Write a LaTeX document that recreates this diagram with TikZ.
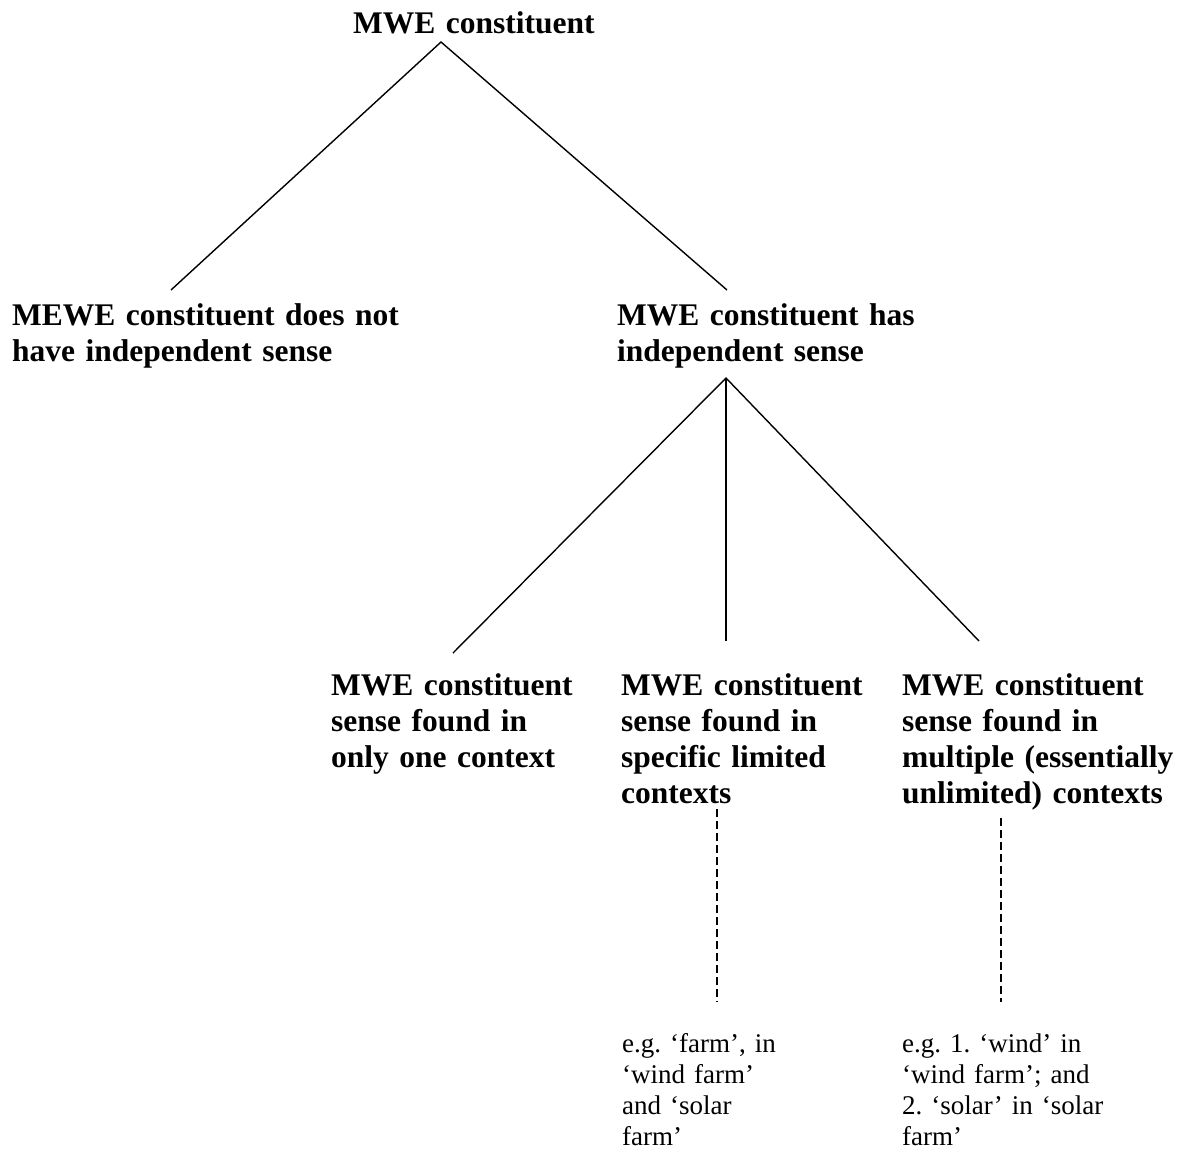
\documentclass[tikz,border=0pt]{standalone}
\usepackage{fontspec}
\setmainfont{Liberation Serif}
\begin{document}
\frenchspacing
\begin{tikzpicture}[x=1pt,y=-1pt,
  head/.style={anchor=base west,inner sep=0pt,text width=420pt,align=left,
    font=\fontsize{31.5}{36.2}\selectfont\bfseries},
  example/.style={anchor=base west,inner sep=0pt,text width=300pt,align=left,
    font=\fontsize{27}{31}\selectfont},
  branch/.style={draw=black,line width=1.4pt},
  link/.style={draw=black,line width=1.3pt,dash pattern=on 8pt off 4pt}]
\useasboundingbox (0,0) rectangle (1181,1173);
\fill[white] (0,0) rectangle (1181,1173);

% categories
\node[head] (root) at (353,33) {MWE constituent};
\node[head] (nosense) at (12,325) {MEWE constituent does not\\have independent sense};
\node[head] (sense) at (617,325) {MWE constituent has\\independent sense};
\node[head] (one) at (331,695) {MWE constituent\\sense found in\\only one context};
\node[head] (limited) at (621,695) {MWE constituent\\sense found in\\specific limited\\contexts};
\node[head] (multi) at (902,695) {MWE constituent\\sense found in\\multiple (essentially\\unlimited) contexts};

% examples
\node[example] (exlim) at (622,1052) {e.g. ‘farm’, in\\‘wind farm’\\and ‘solar\\farm’};
\node[example] (exmulti) at (902,1052) {e.g. 1. ‘wind’ in\\‘wind farm’; and\\2. ‘solar’ in ‘solar\\farm’};

% branch points
\coordinate (rootapex) at (441,42);
\coordinate (nosensetop) at (171,290);
\coordinate (sensetop) at (727,290);
\coordinate (senseapex) at (726,378);
\coordinate (onetop) at (453,653);
\coordinate (limitedtop) at (726,641);
\coordinate (multitop) at (979,641);
\coordinate (limitedfoot) at (717,809);
\coordinate (exlimtop) at (717,1002);
\coordinate (multifoot) at (1001,818);
\coordinate (exmultitop) at (1001,1002);

\draw[branch] (nosensetop) -- (rootapex) -- (sensetop);
\draw[branch] (onetop) -- (senseapex) -- (multitop);
\draw[branch] (senseapex) -- (limitedtop);
\draw[link] (limitedfoot) -- (exlimtop);
\draw[link] (multifoot) -- (exmultitop);
\end{tikzpicture}
\end{document}
